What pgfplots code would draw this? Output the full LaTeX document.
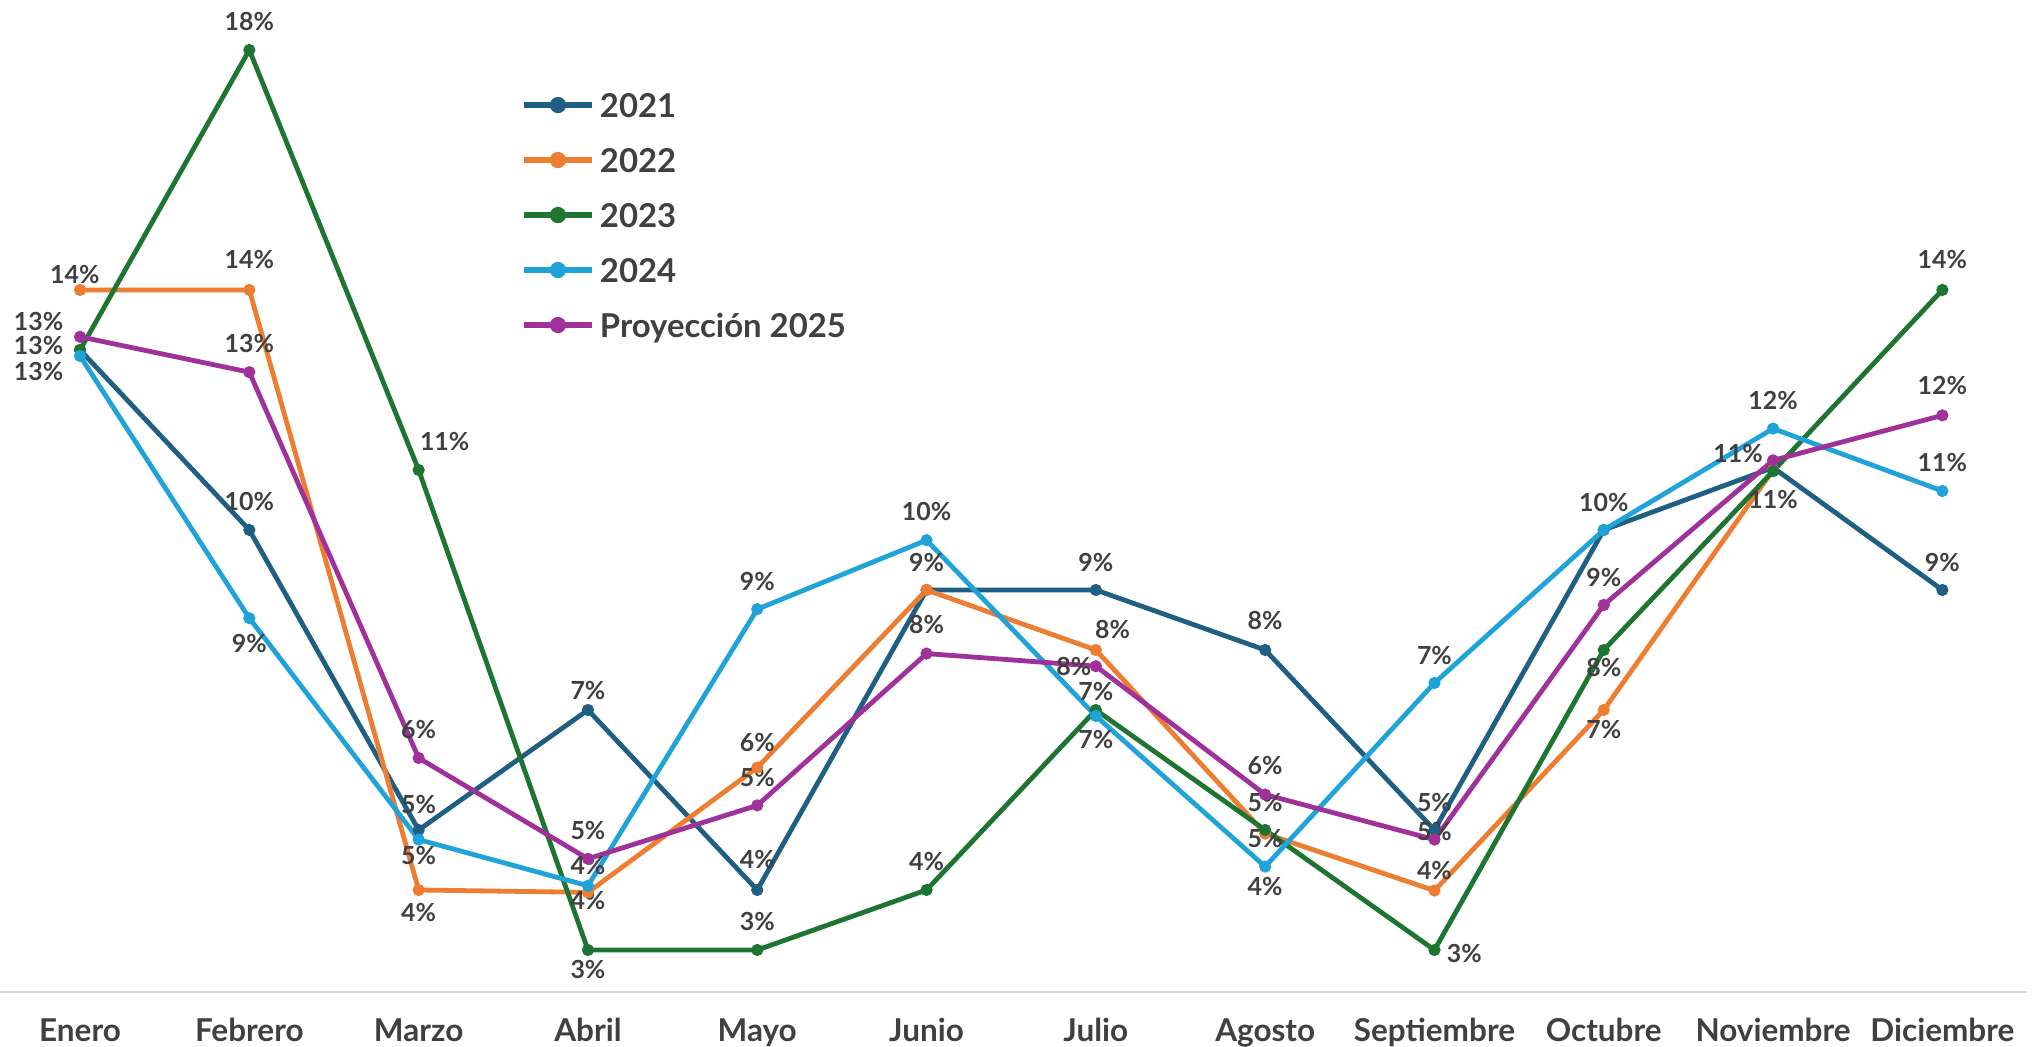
\documentclass[border=0pt]{standalone}
\usepackage{fontspec}
\setmainfont{Lato}
\usepackage{pgfplots}
\pgfplotsset{compat=1.18}
\definecolor{c21}{HTML}{1E5F83}
\definecolor{c22}{HTML}{ED7D31}
\definecolor{c23}{HTML}{1E7531}
\definecolor{c24}{HTML}{1FA3D9}
\definecolor{c25}{HTML}{A0309A}
\definecolor{txt}{HTML}{404040}
\definecolor{axisgray}{HTML}{D9D9D9}
\newcommand{\lb}[3]{\node[lbl] at (axis cs:#1,#2) {#3\%};}
\newcommand{\lbs}[4]{\node[lbl,xshift=#2] at (axis cs:#1,#3) {#4\%};}
\begin{document}
\begin{tikzpicture}[x=1bp,y=1bp,
  lbl/.style={font=\fontsize{12.5}{14}\selectfont\bfseries, text=txt, inner sep=0pt, anchor=center}]
\path[use as bounding box] (0,0) rectangle (1016.5,523.5);
\begin{axis}[
  at={(-2.3bp,27.5bp)}, anchor=south west,
  scale only axis, width=1015.8bp, height=495bp,
  xmin=-0.5, xmax=11.5, ymin=2.3, ymax=18.8,
  axis y line=none, axis x line*=bottom,
  x axis line style={draw=axisgray, line width=1.2bp, -},
  xtick={0,...,11},
  xticklabels={Enero,Febrero,Marzo,Abril,Mayo,Junio,Julio,Agosto,Septiembre,Octubre,Noviembre,Diciembre},
  major tick length=0pt,
  xticklabel style={font=\fontsize{15.8}{18}\selectfont\bfseries, text=txt, anchor=base, yshift=-25bp},
  clip=false,
  every axis plot/.append style={line width=2.4bp, mark=*, mark size=2.8bp, mark options={solid, line width=0.5bp}},
  legend style={at={(0.2587,0.908)}, anchor=north west, draw=none, fill=none, inner sep=0pt, outer sep=0pt,
    row sep=15.5bp, column sep=2.5bp,
    font=\fontsize{16.5}{20}\selectfont\bfseries, text=txt,
    nodes={inner sep=0pt, text height=12bp, text depth=0bp}},
  legend cell align=left,
  legend image code/.code={\draw[mark repeat=2,mark phase=2,#1,line width=3bp,mark size=3.8bp] plot coordinates {(0bp,0bp) (17bp,0bp) (34bp,0bp)};},
]
\addplot[c21] coordinates {(0,13) (1,10) (2,5) (3,7) (4,4) (5,9) (6,9) (7,8) (8,5) (9,10) (10,11.04) (11,9)};
\addlegendentry{2021}
\addplot[c22] coordinates {(0,14) (1,14) (2,4) (3,3.96) (4,6.04) (5,9) (6,8) (7,4.94) (8,3.99) (9,7) (10,11)};
\addlegendentry{2022}
\addplot[c23] coordinates {(0,13) (1,18) (2,11) (3,3) (4,3) (5,4) (6,7) (7,5) (8,3) (9,8) (10,10.98) (11,14)};
\addlegendentry{2023}
\addplot[c24] coordinates {(0,12.9) (1,8.53) (2,4.84) (3,4.07) (4,8.68) (5,9.83) (6,6.9) (7,4.39) (8,7.45) (9,10) (10,11.69) (11,10.65)};
\addlegendentry{2024}
\addplot[c25] coordinates {(0,13.22) (1,12.63) (2,6.2) (3,4.52) (4,5.41) (5,7.94) (6,7.73) (7,5.59) (8,4.84) (9,8.75) (10,11.16) (11,11.91)};
\addlegendentry{Proyección 2025}
% data labels
\lbs{0}{-2.6bp}{14.26}{14}
\lbs{0}{-20.7bp}{13.48}{13}
\lbs{0}{-20.7bp}{13.07}{13}
\lbs{0}{-20.7bp}{12.64}{13}
\lb{1}{18.47}{18}
\lb{1}{14.50}{14}
\lb{1}{13.11}{13}
\lb{1}{10.48}{10}
\lb{1}{8.10}{9}
\lbs{2}{13bp}{11.47}{11}
\lb{2}{6.67}{6}
\lb{2}{5.42}{5}
\lb{2}{4.58}{5}
\lb{2}{3.63}{4}
\lb{3}{7.32}{7}
\lb{3}{4.99}{5}
\lb{3}{4.40}{4}
\lb{3}{3.82}{4}
\lb{3}{2.68}{3}
\lb{4}{9.14}{9}
\lb{4}{6.46}{6}
\lb{4}{5.87}{5}
\lb{4}{4.51}{4}
\lb{4}{3.48}{3}
\lb{5}{10.30}{10}
\lb{5}{9.46}{9}
\lb{5}{8.42}{8}
\lb{5}{4.47}{4}
\lb{6}{9.46}{9}
\lbs{6}{8.4bp}{8.34}{8}
\lbs{6}{-11bp}{7.73}{8}
\lb{6}{7.30}{7}
\lb{6}{6.50}{7}
\lb{7}{8.49}{8}
\lb{7}{6.07}{6}
\lb{7}{5.46}{5}
\lb{7}{4.86}{5}
\lb{7}{4.06}{4}
\lb{8}{7.91}{7}
\lb{8}{5.46}{5}
\lb{8}{4.97}{5}
\lb{8}{4.32}{4}
\lbs{8}{14.9bp}{2.94}{3}
\lb{9}{10.46}{10}
\lb{9}{9.20}{9}
\lb{9}{7.71}{8}
\lb{9}{6.67}{7}
\lb{10}{12.16}{12}
\lbs{10}{-17.5bp}{11.28}{11}
\lb{10}{10.50}{11}
\lb{11}{14.50}{14}
\lb{11}{12.40}{12}
\lb{11}{11.13}{11}
\lb{11}{9.46}{9}
\end{axis}
\end{tikzpicture}
\end{document}
